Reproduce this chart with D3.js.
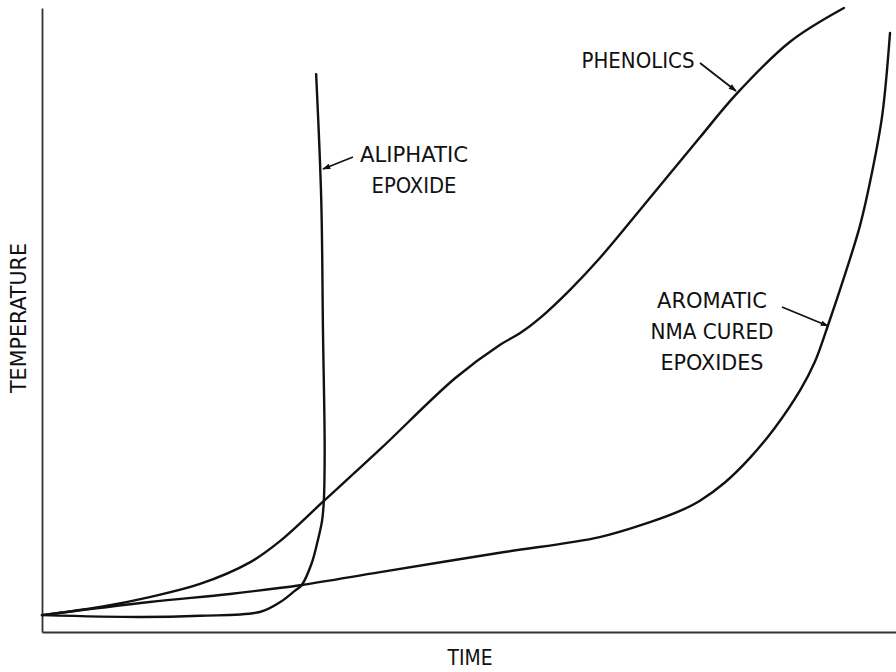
<!DOCTYPE html>
<html>
<head>
<meta charset="utf-8">
<script src="https://cdn.jsdelivr.net/npm/d3@7"></script>
<style>
  html, body { margin: 0; padding: 0; background: #fff; }
  svg { display: block; }
  .lbl { font-family: "Liberation Sans Narrow", "DejaVu Sans Condensed", "Liberation Sans", sans-serif; font-size: 22px; fill: #111; }
</style>
</head>
<body>
<svg id="chart" width="896" height="672"></svg>
<script>
// Relative temperature rise over time for three resin systems (arbitrary units, 0–100)
const phenolicsTime = [0, 6.8, 12.6, 18.5, 24.4, 27.9, 33.0, 39.6, 48.4, 53.6, 56.0, 58.3, 61.8, 65.3, 71.2, 77.0, 81.3, 87.6, 93.9];
const phenolicsTemp = [2.7, 4.0, 5.6, 7.7, 11.2, 14.6, 21.0, 29.3, 40.7, 46.0, 47.9, 50.3, 54.8, 59.9, 69.6, 79.2, 86.2, 94.6, 100];

const aromaticTime = [0, 12.6, 22.0, 30.2, 39.6, 53.6, 65.3, 71.2, 74.7, 77.0, 80.0, 82.9, 85.8, 88.8, 90.5, 92.0, 94.0, 95.8, 97.2, 98.4, 99.3];
const aromaticTemp = [2.7, 4.8, 6.1, 7.5, 9.6, 12.7, 15.2, 17.6, 19.4, 21.0, 24.0, 27.9, 32.7, 38.8, 43.3, 49.0, 57.2, 65.2, 73.7, 82.9, 96.0];

const aliphaticTime = [0, 11.5, 18.5, 25.5, 27.9, 29.6, 30.4, 31.6, 32.3, 32.8, 33.0, 33.1, 32.9, 32.7, 32.1];
const aliphaticTemp = [2.7, 2.4, 2.6, 3.2, 4.8, 6.6, 7.5, 11.1, 14.7, 17.9, 21.0, 29.2, 48.4, 69.2, 89.4];

const xTitle = "TIME";
const yTitle = "TEMPERATURE";

const width = 896, height = 672;
const margin = { left: 42, right: 0, top: 8, bottom: 40 };

const svg = d3.select("#chart");

const x = d3.scaleLinear().domain([0, 100]).range([margin.left, width - margin.right]);
const y = d3.scaleLinear().domain([0, 100]).range([height - margin.bottom, margin.top]);

// Arrowhead marker for the leader lines
svg.append("defs").append("marker")
  .attr("id", "arrow")
  .attr("viewBox", "0 0 10 10")
  .attr("refX", 9).attr("refY", 5)
  .attr("markerWidth", 10).attr("markerHeight", 8)
  .attr("markerUnits", "userSpaceOnUse")
  .attr("orient", "auto")
  .append("path")
  .attr("d", "M0,1.5 L10,5 L0,8.5 Z")
  .attr("fill", "#111");

// Bare axes: no ticks, just the frame lines
const xAxis = svg.append("g")
  .attr("transform", `translate(0,${y(0)})`)
  .call(d3.axisBottom(x).tickValues([]).tickSizeOuter(0));
const yAxis = svg.append("g")
  .attr("transform", `translate(${x(0)},0)`)
  .call(d3.axisLeft(y).tickValues([]).tickSizeOuter(0));
[xAxis, yAxis].forEach(g => g.select(".domain").attr("stroke", "#333").attr("stroke-width", 1.8));

// Curves
const line = d3.line()
  .x(d => x(d[0]))
  .y(d => y(d[1]))
  .curve(d3.curveCatmullRom.alpha(0.5));

const series = [
  { name: "phenolics", t: phenolicsTime, v: phenolicsTemp },
  { name: "aromatic", t: aromaticTime, v: aromaticTemp },
  { name: "aliphatic", t: aliphaticTime, v: aliphaticTemp }
];

svg.append("g").selectAll("path")
  .data(series)
  .join("path")
  .attr("d", s => line(d3.zip(s.t, s.v)))
  .attr("fill", "none")
  .attr("stroke", "#111")
  .attr("stroke-width", 2.4)
  .attr("stroke-linejoin", "round")
  .attr("stroke-linecap", "round");

// Curve labels with leader arrows
const labels = [
  { lines: ["PHENOLICS"], x: 638, y: 68, w: [113], from: [700, 63], to: [736, 91] },
  { lines: ["ALIPHATIC", "EPOXIDE"], x: 414, y: 162, w: [108, 85], from: [353, 157], to: [323, 169] },
  { lines: ["AROMATIC", "NMA CURED", "EPOXIDES"], x: 712, y: 308, w: [110, 123, 103], from: [782, 307], to: [828, 326] }
];

const lineGap = 31;
labels.forEach(l => {
  l.lines.forEach((txt, i) => {
    svg.append("text")
      .attr("class", "lbl")
      .attr("x", l.x)
      .attr("y", l.y + i * lineGap)
      .attr("text-anchor", "middle")
      .attr("textLength", l.w[i])
      .attr("lengthAdjust", "spacingAndGlyphs")
      .text(txt);
  });
  svg.append("line")
    .attr("x1", l.from[0]).attr("y1", l.from[1])
    .attr("x2", l.to[0]).attr("y2", l.to[1])
    .attr("stroke", "#111")
    .attr("stroke-width", 1.8)
    .attr("marker-end", "url(#arrow)");
});

// Axis titles
svg.append("text")
  .attr("class", "lbl")
  .attr("x", 470)
  .attr("y", 665)
  .attr("text-anchor", "middle")
  .attr("textLength", 45)
  .attr("lengthAdjust", "spacingAndGlyphs")
  .text(xTitle);

svg.append("text")
  .attr("class", "lbl")
  .attr("transform", "translate(26,318) rotate(-90)")
  .attr("text-anchor", "middle")
  .attr("textLength", 150)
  .attr("lengthAdjust", "spacingAndGlyphs")
  .text(yTitle);
</script>
</body>
</html>
